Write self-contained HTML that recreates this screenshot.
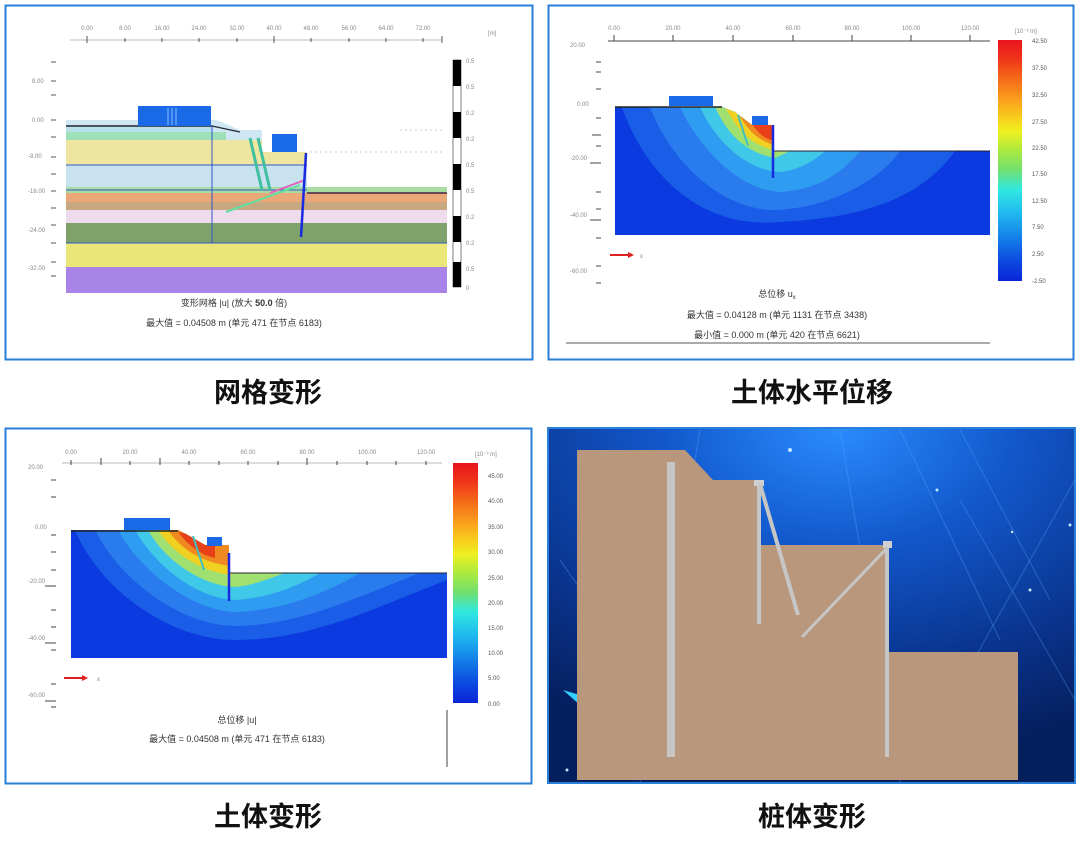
<!DOCTYPE html>
<html><head><meta charset="utf-8"><style>
html,body{margin:0;padding:0;background:#fff;}
svg{display:block;}
text{font-family:"Liberation Sans","Noto Sans CJK SC",sans-serif;}
.cap{font-family:"Liberation Sans","Noto Sans CJK SC",sans-serif;font-weight:bold;font-size:27px;fill:#111;}
.sm{font-size:6px;fill:#888;}
.sd{font-size:6px;fill:#555;}
.lb{font-size:9px;fill:#333;}
</style></head><body>
<svg width="1080" height="842" viewBox="0 0 1080 842" xmlns="http://www.w3.org/2000/svg">
<defs>
<radialGradient id="bg4" cx="0.55" cy="0.0" r="0.95">
<stop offset="0" stop-color="#2a8cff"/><stop offset="0.35" stop-color="#1258cc"/><stop offset="0.7" stop-color="#0a3590"/><stop offset="1" stop-color="#051e5c"/>
</radialGradient>
<clipPath id="g2"><polygon points="615,107 722,107 735,112 752,125 773,125 773,151 990,151 990,235 615,235"/></clipPath>
<clipPath id="g3"><polygon points="71,530 178,530 186,534 205,545 229,545 229,573 447,573 447,658 71,658"/></clipPath>
<linearGradient id="cb" x1="0" y1="0" x2="0" y2="1">
<stop offset="0" stop-color="#e8141e"/><stop offset="0.08" stop-color="#f0361a"/><stop offset="0.16" stop-color="#f56a18"/><stop offset="0.24" stop-color="#fa9a1c"/><stop offset="0.32" stop-color="#f8cc1c"/><stop offset="0.38" stop-color="#eef020"/><stop offset="0.46" stop-color="#aaea40"/><stop offset="0.54" stop-color="#70e070"/><stop offset="0.62" stop-color="#30e8e0"/><stop offset="0.72" stop-color="#20b8f0"/><stop offset="0.82" stop-color="#1480e8"/><stop offset="0.92" stop-color="#0c48e0"/><stop offset="1" stop-color="#0a24d8"/>
</linearGradient>
</defs>

<!-- Panel 1 -->
<rect x="5.5" y="5.5" width="527" height="354" fill="#fff" stroke="#2a7fd8" stroke-width="2"/>
<g>
<line x1="70" y1="40" x2="442" y2="40" stroke="#bbb" stroke-width="1"/>
<g stroke="#555" stroke-width="1">
<line x1="87" y1="36" x2="87" y2="43"/><line x1="125" y1="38" x2="125" y2="42"/><line x1="162" y1="38" x2="162" y2="42"/><line x1="199" y1="38" x2="199" y2="42"/><line x1="237" y1="38" x2="237" y2="42"/><line x1="274" y1="36" x2="274" y2="43"/><line x1="311" y1="38" x2="311" y2="42"/><line x1="349" y1="38" x2="349" y2="42"/><line x1="386" y1="38" x2="386" y2="42"/><line x1="423" y1="38" x2="423" y2="42"/><line x1="442" y1="36" x2="442" y2="43"/>
<line x1="51" y1="62" x2="56" y2="62"/><line x1="51" y1="81" x2="56" y2="81"/><line x1="51" y1="95" x2="56" y2="95"/><line x1="51" y1="120" x2="56" y2="120"/><line x1="51" y1="137" x2="56" y2="137"/><line x1="51" y1="157" x2="56" y2="157"/><line x1="51" y1="174" x2="56" y2="174"/><line x1="51" y1="191" x2="56" y2="191"/><line x1="51" y1="208" x2="56" y2="208"/><line x1="51" y1="225" x2="56" y2="225"/><line x1="51" y1="243" x2="56" y2="243"/><line x1="51" y1="262" x2="56" y2="262"/><line x1="51" y1="276" x2="56" y2="276"/>
</g>
<g class="sm">
<text x="87" y="30" text-anchor="middle">0.00</text><text x="125" y="30" text-anchor="middle">8.00</text><text x="162" y="30" text-anchor="middle">16.00</text><text x="199" y="30" text-anchor="middle">24.00</text><text x="237" y="30" text-anchor="middle">32.00</text><text x="274" y="30" text-anchor="middle">40.00</text><text x="311" y="30" text-anchor="middle">48.00</text><text x="349" y="30" text-anchor="middle">56.00</text><text x="386" y="30" text-anchor="middle">64.00</text><text x="423" y="30" text-anchor="middle">72.00</text><text x="488" y="35">[m]</text>
<text x="32" y="83">8.00</text><text x="32" y="122">0.00</text><text x="28" y="158">-8.00</text><text x="28" y="193">-16.00</text><text x="28" y="232">-24.00</text><text x="28" y="270">-32.00</text>
</g>
<rect x="66" y="120" width="381" height="173" fill="#cfe6f3"/>
<rect x="66" y="126" width="146" height="14" fill="#b8e0e8"/>
<rect x="66" y="132" width="160" height="8" fill="#9ee0b8"/>
<rect x="66" y="140" width="150" height="25" fill="#eee6a0"/>
<polygon points="216,140 262,140 262,152 307,152 307,165 216,165" fill="#eee6a0"/>
<rect x="66" y="165" width="241" height="25" fill="#c8e2f0"/>
<rect x="66" y="187" width="381" height="6" fill="#a8dca0"/>
<rect x="66" y="193" width="381" height="9" fill="#eaa878"/>
<rect x="66" y="202" width="381" height="8" fill="#c8a880"/>
<rect x="66" y="210" width="381" height="13" fill="#eedcec"/>
<rect x="66" y="223" width="381" height="20" fill="#7ea26a"/>
<rect x="66" y="243" width="381" height="24" fill="#eae678"/>
<rect x="66" y="267" width="381" height="26" fill="#a884e8"/>
<polygon points="212,118 240,130 262,130 262,152 307,152 307,187 447,187 447,120 212,120" fill="#fff"/>
<g stroke="#ccc" stroke-width="1" stroke-dasharray="2,3"><line x1="310" y1="152" x2="445" y2="152"/><line x1="400" y1="130" x2="445" y2="130"/></g>
<line x1="66" y1="126" x2="212" y2="126" stroke="#223" stroke-width="1.5"/>
<line x1="212" y1="126" x2="240" y2="132" stroke="#223" stroke-width="1.2"/>
<line x1="66" y1="165" x2="307" y2="165" stroke="#3355cc" stroke-width="1"/>
<line x1="66" y1="190" x2="307" y2="190" stroke="#3355cc" stroke-width="1"/>
<line x1="66" y1="243" x2="447" y2="243" stroke="#3355cc" stroke-width="1"/>
<line x1="307" y1="193" x2="447" y2="193" stroke="#442244" stroke-width="1.5"/>
<line x1="212" y1="126" x2="212" y2="243" stroke="#3355cc" stroke-width="1"/>
<rect x="138" y="106" width="73" height="20" fill="#1a6ae8"/>
<g stroke="#8cc0ff" stroke-width="1"><line x1="168" y1="108" x2="168" y2="125"/><line x1="172" y1="108" x2="172" y2="125"/><line x1="176" y1="108" x2="176" y2="125"/></g>
<rect x="272" y="134" width="25" height="18" fill="#1a6ae8"/>
<path d="M250,138 L262,190 M258,138 L270,190" stroke="#40c0a0" stroke-width="3" fill="none"/>
<line x1="226" y1="212" x2="300" y2="185" stroke="#60e0a0" stroke-width="2"/>
<line x1="270" y1="193" x2="305" y2="180" stroke="#e060c0" stroke-width="2"/>
<line x1="306" y1="153" x2="301" y2="237" stroke="#1a2ae0" stroke-width="2.5"/>
<rect x="453" y="60" width="8" height="227" fill="#fff" stroke="#000" stroke-width="0.5"/>
<g fill="#000"><rect x="453" y="60" width="8" height="26"/><rect x="453" y="112" width="8" height="26"/><rect x="453" y="164" width="8" height="26"/><rect x="453" y="216" width="8" height="26"/><rect x="453" y="262" width="8" height="25"/></g>
<g class="sm"><text x="466" y="63">0.5</text><text x="466" y="89">0.5</text><text x="466" y="115">0.2</text><text x="466" y="141">0.2</text><text x="466" y="167">0.5</text><text x="466" y="193">0.5</text><text x="466" y="219">0.2</text><text x="466" y="245">0.2</text><text x="466" y="271">0.5</text><text x="466" y="290">0</text></g>
<text x="234" y="306" text-anchor="middle" class="lb">变形网格 |u| (放大 <tspan font-weight="bold">50.0</tspan> 倍)</text>
<text x="234" y="326" text-anchor="middle" class="lb">最大值 = 0.04508 m (单元 471 在节点 6183)</text>
</g>

<!-- Panel 2 -->
<rect x="548.5" y="5.5" width="525" height="354" fill="#fff" stroke="#2a7fd8" stroke-width="2"/>
<line x1="608" y1="41" x2="990" y2="41" stroke="#444" stroke-width="1"/>
<g stroke="#444" stroke-width="1">
<line x1="614" y1="35" x2="614" y2="41"/><line x1="673" y1="35" x2="673" y2="41"/><line x1="733" y1="35" x2="733" y2="41"/><line x1="793" y1="35" x2="793" y2="41"/><line x1="852" y1="35" x2="852" y2="41"/><line x1="911" y1="35" x2="911" y2="41"/><line x1="970" y1="35" x2="970" y2="41"/>
<line x1="596" y1="62" x2="601" y2="62"/><line x1="596" y1="72" x2="601" y2="72"/><line x1="596" y1="89" x2="601" y2="89"/><line x1="596" y1="118" x2="601" y2="118"/><line x1="592" y1="135" x2="601" y2="135"/><line x1="596" y1="146" x2="601" y2="146"/><line x1="590" y1="163" x2="601" y2="163"/><line x1="596" y1="192" x2="601" y2="192"/><line x1="596" y1="209" x2="601" y2="209"/><line x1="590" y1="220" x2="601" y2="220"/><line x1="596" y1="238" x2="601" y2="238"/><line x1="596" y1="266" x2="601" y2="266"/><line x1="596" y1="283" x2="601" y2="283"/>
</g>
<g class="sm">
<text x="614" y="30" text-anchor="middle">0.00</text><text x="673" y="30" text-anchor="middle">20.00</text><text x="733" y="30" text-anchor="middle">40.00</text><text x="793" y="30" text-anchor="middle">60.00</text><text x="852" y="30" text-anchor="middle">80.00</text><text x="911" y="30" text-anchor="middle">100.00</text><text x="970" y="30" text-anchor="middle">120.00</text>
<text x="570" y="47">20.00</text><text x="577" y="106">0.00</text><text x="570" y="160">-20.00</text><text x="570" y="217">-40.00</text><text x="570" y="273">-60.00</text>
<text x="1015" y="33">[10⁻³ m]</text>
</g>
<g clip-path="url(#g2)">
<rect x="615" y="107" width="375" height="128" fill="#0a3ae0"/>
<path d="M622,107 C640,160 690,230 780,222 C860,218 920,200 955,151 L990,151 L990,107Z" fill="#1a5ee8"/>
<path d="M650,107 C670,160 720,210 775,210 C830,208 880,180 900,151 L990,151 L990,107Z" fill="#2a7cee"/>
<path d="M680,107 C700,150 740,190 780,192 C820,190 845,170 860,151 L990,151 L990,107Z" fill="#2e9cf0"/>
<path d="M700,107 C715,140 745,170 780,172 C800,170 815,160 825,151 L990,151 L990,107Z" fill="#40c8e8"/>
<path d="M715,107 C728,135 745,152 775,158 L790,151 L990,151 L990,107Z" fill="#a0e070"/>
<path d="M725,107 C735,125 748,145 775,150 L775,107Z" fill="#f0d020"/>
<path d="M735,107 C742,120 752,140 775,145 L775,107Z" fill="#f08a20"/>
<path d="M745,112 C752,125 760,138 772,140 L772,120 Z" fill="#e84018"/>
</g>
<line x1="615" y1="107" x2="722" y2="107" stroke="#222" stroke-width="1.5"/>
<line x1="773" y1="151" x2="990" y2="151" stroke="#223" stroke-width="1"/>
<rect x="669" y="96" width="44" height="10" fill="#1a6ae8"/>
<rect x="752" y="116" width="16" height="9" fill="#1a6ae8"/>
<line x1="738" y1="115" x2="748" y2="146" stroke="#40c0c0" stroke-width="2"/>
<line x1="773" y1="125" x2="773" y2="178" stroke="#1a2ae0" stroke-width="2.5"/>
<rect x="998" y="40" width="24" height="241" fill="url(#cb)"/>
<g class="sd"><text x="1032" y="43">42.50</text><text x="1032" y="70">37.50</text><text x="1032" y="97">32.50</text><text x="1032" y="124">27.50</text><text x="1032" y="150">22.50</text><text x="1032" y="176">17.50</text><text x="1032" y="203">12.50</text><text x="1032" y="229">7.50</text><text x="1032" y="256">2.50</text><text x="1032" y="283">-2.50</text></g>
<line x1="610" y1="255" x2="628" y2="255" stroke="#e02020" stroke-width="2"/><polygon points="628,252 634,255 628,258" fill="#e02020"/>
<text x="640" y="258" class="sm">x</text>
<text x="777" y="297" text-anchor="middle" class="lb">总位移 u<tspan font-size="6" dy="2">x</tspan></text>
<text x="777" y="318" text-anchor="middle" class="lb">最大值 = 0.04128 m (单元 1131 在节点 3438)</text>
<text x="777" y="338" text-anchor="middle" class="lb">最小值 = 0.000 m (单元 420 在节点 6621)</text>
<line x1="566" y1="343" x2="990" y2="343" stroke="#555" stroke-width="1"/>

<!-- Panel 3 -->
<rect x="5.5" y="428.5" width="526" height="355" fill="#fff" stroke="#2a7fd8" stroke-width="2"/>
<line x1="62" y1="463" x2="442" y2="463" stroke="#bbb" stroke-width="1"/>
<g stroke="#444" stroke-width="1">
<line x1="71" y1="460" x2="71" y2="465"/><line x1="101" y1="458" x2="101" y2="465"/><line x1="130" y1="461" x2="130" y2="465"/><line x1="160" y1="458" x2="160" y2="465"/><line x1="189" y1="461" x2="189" y2="465"/><line x1="219" y1="461" x2="219" y2="465"/><line x1="248" y1="461" x2="248" y2="465"/><line x1="278" y1="461" x2="278" y2="465"/><line x1="307" y1="458" x2="307" y2="465"/><line x1="337" y1="461" x2="337" y2="465"/><line x1="367" y1="461" x2="367" y2="465"/><line x1="396" y1="461" x2="396" y2="465"/><line x1="426" y1="461" x2="426" y2="465"/>
<line x1="51" y1="480" x2="56" y2="480"/><line x1="51" y1="497" x2="56" y2="497"/><line x1="51" y1="535" x2="56" y2="535"/><line x1="51" y1="552" x2="56" y2="552"/><line x1="51" y1="570" x2="56" y2="570"/><line x1="45" y1="586" x2="56" y2="586"/><line x1="51" y1="610" x2="56" y2="610"/><line x1="51" y1="627" x2="56" y2="627"/><line x1="45" y1="643" x2="56" y2="643"/><line x1="51" y1="650" x2="56" y2="650"/><line x1="51" y1="684" x2="56" y2="684"/><line x1="45" y1="701" x2="56" y2="701"/><line x1="51" y1="707" x2="56" y2="707"/>
</g>
<g class="sm">
<text x="71" y="454" text-anchor="middle">0.00</text><text x="130" y="454" text-anchor="middle">20.00</text><text x="189" y="454" text-anchor="middle">40.00</text><text x="248" y="454" text-anchor="middle">60.00</text><text x="307" y="454" text-anchor="middle">80.00</text><text x="367" y="454" text-anchor="middle">100.00</text><text x="426" y="454" text-anchor="middle">120.00</text>
<text x="28" y="469">20.00</text><text x="35" y="529">0.00</text><text x="28" y="583">-20.00</text><text x="28" y="640">-40.00</text><text x="28" y="697">-60.00</text>
<text x="475" y="456">[10⁻³ m]</text>
</g>
<g clip-path="url(#g3)">
<rect x="71" y="530" width="376" height="128" fill="#0a3ae0"/>
<path d="M75,530 C100,590 170,640 235,640 C310,640 370,610 447,580 L447,530Z" fill="#1a5ee8"/>
<path d="M95,530 C120,580 180,625 235,626 C300,625 350,600 420,573 L447,573 L447,530Z" fill="#2a7cee"/>
<path d="M118,530 C140,570 190,610 235,612 C290,610 330,590 360,573 L447,573 L447,530Z" fill="#2e9cf0"/>
<path d="M135,530 C155,565 195,598 235,600 C270,598 300,585 320,573 L447,573 L447,530Z" fill="#40c8e8"/>
<path d="M148,530 C165,560 200,585 235,587 C255,585 270,578 285,573 L447,573Z" fill="#a0e070"/>
<path d="M158,530 C172,552 200,572 232,575 L232,530Z" fill="#f0d020"/>
<path d="M168,530 C180,548 200,562 230,566 L230,530Z" fill="#f08a20"/>
<path d="M178,532 C188,545 200,555 215,558 L215,540Z" fill="#e84018"/>
</g>
<line x1="71" y1="531" x2="178" y2="531" stroke="#222" stroke-width="1.5"/>
<line x1="229" y1="573" x2="447" y2="573" stroke="#223" stroke-width="1"/>
<rect x="124" y="518" width="46" height="12" fill="#1a6ae8"/>
<rect x="207" y="537" width="15" height="9" fill="#1a6ae8"/>
<line x1="193" y1="536" x2="204" y2="570" stroke="#40c0c0" stroke-width="2"/>
<line x1="229" y1="553" x2="229" y2="601" stroke="#1a2ae0" stroke-width="2.5"/>
<rect x="453" y="463" width="25" height="240" fill="url(#cb)"/>
<g class="sd"><text x="488" y="478">45.00</text><text x="488" y="503">40.00</text><text x="488" y="529">35.00</text><text x="488" y="554">30.00</text><text x="488" y="580">25.00</text><text x="488" y="605">20.00</text><text x="488" y="630">15.00</text><text x="488" y="655">10.00</text><text x="488" y="680">5.00</text><text x="488" y="706">0.00</text></g>
<line x1="64" y1="678" x2="82" y2="678" stroke="#e02020" stroke-width="2"/><polygon points="82,675 88,678 82,681" fill="#e02020"/>
<text x="97" y="681" class="sm">x</text>
<text x="237" y="723" text-anchor="middle" class="lb">总位移 |u|</text>
<text x="237" y="742" text-anchor="middle" class="lb">最大值 = 0.04508 m (单元 471 在节点 6183)</text>
<line x1="447" y1="710" x2="447" y2="767" stroke="#444" stroke-width="1"/>

<!-- Panel 4 -->
<rect x="548" y="428" width="527" height="355" fill="url(#bg4)" stroke="#2a7fd8" stroke-width="2"/>
<g stroke="#5aa8ff" stroke-opacity="0.3" stroke-width="1.2"><line x1="700" y1="430" x2="640" y2="783"/><line x1="840" y1="430" x2="900" y2="783"/><line x1="1075" y1="480" x2="940" y2="720"/><line x1="560" y1="560" x2="700" y2="760"/><line x1="960" y1="500" x2="1075" y2="700"/><line x1="900" y1="430" x2="1000" y2="640"/><line x1="960" y1="430" x2="1050" y2="600"/></g>
<polygon points="563,690 580,695 580,705" fill="#30d0ff"/>
<circle cx="790" cy="450" r="2" fill="#bfe8ff"/><circle cx="937" cy="490" r="1.5" fill="#bfe8ff"/><circle cx="1070" cy="525" r="1.5" fill="#bfe8ff"/><circle cx="1030" cy="590" r="1.5" fill="#bfe8ff"/><circle cx="567" cy="770" r="1.5" fill="#bfe8ff"/><circle cx="1012" cy="532" r="1.2" fill="#bfe8ff"/>
<polygon points="577,450 685,450 713,480 760,480 760,545 889,545 889,652 1018,652 1018,780 577,780" fill="#b9977c"/>
<rect x="667" y="462" width="8" height="295" fill="#c6c6c6"/>
<rect x="757" y="484" width="4" height="140" fill="#c6c6c6"/>
<rect x="754" y="480" width="10" height="6" fill="#d0d0d0"/>
<line x1="760" y1="484" x2="798" y2="615" stroke="#c6c6c6" stroke-width="4"/>
<rect x="885" y="545" width="4" height="212" fill="#c6c6c6"/>
<rect x="883" y="541" width="9" height="7" fill="#d0d0d0"/>
<line x1="888" y1="547" x2="802" y2="637" stroke="#c6c6c6" stroke-width="3"/>

<!-- captions -->
<text x="268" y="402" text-anchor="middle" class="cap">网格变形</text>
<text x="812" y="402" text-anchor="middle" class="cap">土体水平位移</text>
<text x="268" y="826" text-anchor="middle" class="cap">土体变形</text>
<text x="812" y="826" text-anchor="middle" class="cap">桩体变形</text>
</svg>
</body></html>
